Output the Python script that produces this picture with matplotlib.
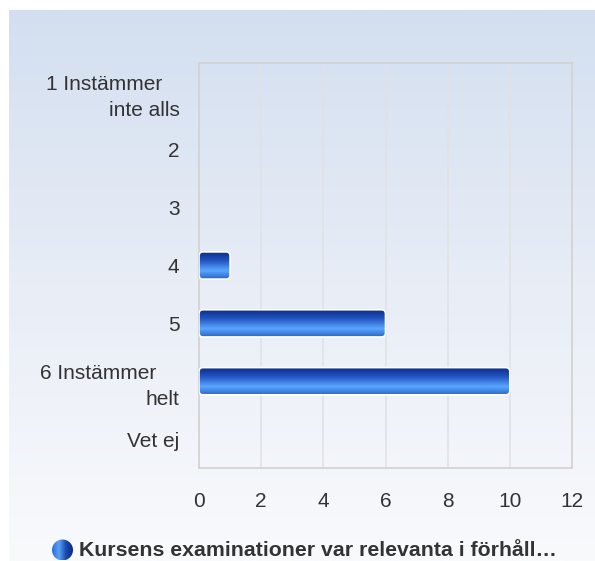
import numpy as np
import matplotlib.pyplot as plt
from matplotlib.patches import FancyBboxPatch, Circle
from matplotlib.colors import LinearSegmentedColormap

plt.rcParams['font.family'] = ['Liberation Sans', 'DejaVu Sans']

# données
categories = ["1 Instämmer   \ninte alls", "2", "3", "4", "5", "6 Instämmer    \nhelt", "Vet ej"]
values = [0, 0, 0, 1, 6, 10, 0]
xticks = [0, 2, 4, 6, 8, 10, 12]
series_name = "Kursens examinationer var relevanta i förhåll…"

fig = plt.figure(figsize=(5.95, 5.61), dpi=100)
fig.patch.set_facecolor('white')

# fond dégradé
bg = fig.add_axes([9/595, 0, 586/595, 551/561], zorder=-10)
grad = np.linspace(0, 1, 256).reshape(-1, 1)
bg_cmap = LinearSegmentedColormap.from_list('bg', ['#d3dff0', '#e8edf6', '#f9fafc'])
bg.imshow(grad, aspect='auto', cmap=bg_cmap, extent=[0, 1, 0, 1], origin='upper')
bg.axis('off')

ax = fig.add_axes([199/595, 93/561, 373/595, 405/561])
ax.patch.set_alpha(0)

y = np.arange(len(categories))
bars = ax.barh(y, values, height=0.47, color='none', edgecolor='none')
ax.set_ylim(len(categories) - 0.5, -0.5)
ax.set_xlim(0, 12)

bar_cmap = LinearSegmentedColormap.from_list(
    'bar', [(0, '#0a2a85'), (0.35, '#2456c4'), (0.7, '#5aa6ff'), (1, '#2766cc')])
bar_grad = np.linspace(0, 1, 128).reshape(-1, 1)
for b in bars:
    w = b.get_width()
    if w <= 0:
        continue
    x0, y0, h = b.get_x(), b.get_y(), b.get_height()
    clip = FancyBboxPatch((x0, y0), w, h,
                          boxstyle="round,pad=0,rounding_size=0.13",
                          mutation_aspect=0.55, transform=ax.transData,
                          facecolor='none', edgecolor='none')
    ax.add_patch(clip)
    im = ax.imshow(bar_grad, aspect='auto', cmap=bar_cmap,
                   extent=[x0, x0 + w, y0 + h, y0], origin='upper', zorder=3)
    im.set_clip_path(clip)
    edge = FancyBboxPatch((x0, y0), w, h,
                          boxstyle="round,pad=0,rounding_size=0.13",
                          mutation_aspect=0.55, facecolor='none',
                          edgecolor='white', linewidth=1.2, zorder=4)
    ax.add_patch(edge)

ax.set_xlim(0, 12)
ax.set_ylim(len(categories) - 0.5, -0.5)
ax.set_xticks(xticks)
ax.set_xticklabels([str(t) for t in xticks])
ax.set_yticks(y)
ax.set_yticklabels(categories, linespacing=1.45, ha='right')
ax.tick_params(axis='both', length=0, labelsize=15, colors='#333333')
ax.tick_params(axis='x', pad=17)
ax.tick_params(axis='y', pad=14)
ax.grid(axis='x', color='#e0e2e6', linewidth=1.2)
ax.set_axisbelow(True)
for s in ax.spines.values():
    s.set_color('#d2d2d2')
    s.set_linewidth(1.2)

# légende
leg_ax = fig.add_axes([0, 0, 1, 1], zorder=5)
leg_ax.set_xlim(0, 595)
leg_ax.set_ylim(561, 0)
leg_ax.axis('off')
leg_ax.patch.set_alpha(0)
circ = Circle((62.5, 550), 10.5, facecolor='none', edgecolor='none')
leg_ax.add_patch(circ)
cgrad = np.linspace(0, 1, 64).reshape(1, -1)
cim = leg_ax.imshow(cgrad, aspect='auto', cmap=LinearSegmentedColormap.from_list(
    'c', ['#2a6fdc', '#5aa0f5', '#1a4bb0', '#0a2a85']),
    extent=[52, 73, 560.5, 539.5])
cim.set_clip_path(circ)
leg_ax.text(79, 550, series_name, fontsize=15.3, fontweight='bold',
            color='#333333', va='center', ha='left')

fig.savefig('out.png', dpi=100)
